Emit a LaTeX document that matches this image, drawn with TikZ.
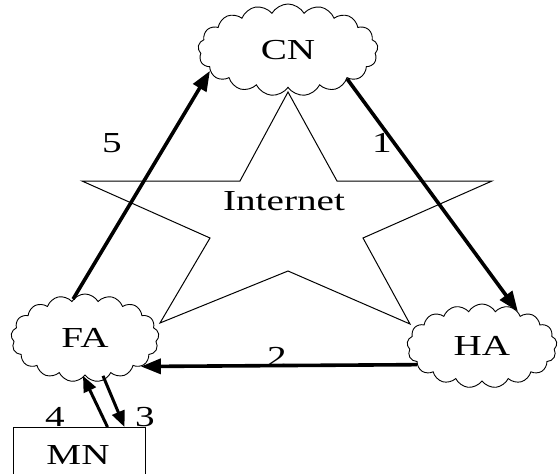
\documentclass[tikz,border=0pt]{standalone}
\usepackage{fontspec}
\setmainfont{Liberation Serif}[FakeStretch=1.35]
\usetikzlibrary{shapes.symbols,arrows.meta}
\begin{document}
\begin{tikzpicture}[x=1pt,y=-1pt,
  lbl/.style={font=\fontsize{29}{34}\selectfont, inner sep=0pt},
  netcloud/.style={cloud, draw, fill=white, line width=0.9pt, cloud puffs=17, cloud puff arc=120,
     cloud ignores aspect, inner sep=0pt, font=\fontsize{29}{34}\selectfont},
  flow/.style={line width=3.6pt, -{Triangle[length=20pt,width=15pt]}},
  mnflow/.style={line width=3pt, -{Triangle[length=16pt,width=13pt]}}]
\useasboundingbox (0,0) rectangle (558,474);
\begin{scope}
\clip (0,0) rectangle (558,474);
% star (Internet)
\draw[line width=1pt] (288,92) -- (337,181) -- (492,181) -- (363,238) -- (410,324)
  -- (288,271) -- (160,323) -- (210,238) -- (82,181) -- (240,181) -- cycle;
\node[lbl] (inet) at (284,201) {Internet};
% clouds
\node[netcloud, minimum width=180pt, minimum height=92pt] (CN) at (288,50) {CN};
\node[netcloud, minimum width=148pt, minimum height=88pt] (FA) at (85,338) {FA};
\node[netcloud, minimum width=150pt, minimum height=84pt] (HA) at (482,346) {HA};
% MN box
\node[draw, line width=1pt, minimum width=132pt, minimum height=60pt, anchor=north west,
  inner sep=0pt] (MN) at (13,427) {};
\node[lbl] (mnlabel) at (78,455) {MN};
% arrows
\draw[flow] (FA.107) -- (CN.195);
\draw[flow] (CN.-26) -- (HA.44);
\draw[flow] (HA.196) -- (FA.-27);
\draw[mnflow] ([xshift=28pt]MN.north) -- ([xshift=-2pt]FA.south);
\draw[mnflow] ([xshift=18pt]FA.south) -- ([xshift=45pt]MN.north);
% labels
\node[lbl] (l5) at (112,143) {5};
\node[lbl] (l1) at (382,143) {1};
\node[lbl] (l2) at (277,357) {2};
\node[lbl] (l4) at (55,417) {4};
\node[lbl] (l3) at (145,417) {3};
\end{scope}
\end{tikzpicture}
\end{document}
